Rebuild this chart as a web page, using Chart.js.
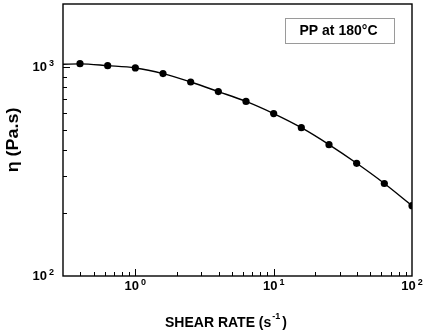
<!DOCTYPE html>
<html>
<head>
<meta charset="utf-8">
<script src="https://cdn.jsdelivr.net/npm/chart.js@4/dist/chart.umd.min.js"></script>
<style>
html,body{margin:0;padding:0;background:#fff;}
#c{display:block;}
</style>
</head>
<body>
<canvas id="c" width="425" height="332"></canvas>
<script>
// Shear rate (s^-1) and viscosity (Pa.s) measured points
const shearRate = [0.398, 0.631, 1.0, 1.585, 2.512, 3.981, 6.31, 10.0, 15.85, 25.12, 39.81, 63.1, 100];
const viscosity = [1036, 1014, 989, 929, 847, 762, 684, 598, 512, 425, 346, 277, 217];
// Fitted curve
const fitShearRate = [0.3, 0.398, 0.631, 1.0, 1.585, 2.512, 3.981, 6.31, 10.0, 15.85, 25.12, 39.81, 63.1, 100];
const fitViscosity = [1030, 1034, 1014, 989, 929, 847, 762, 684, 598, 512, 425, 346, 277, 217];
// Axis ticks
const xMajorTicks = [1, 10, 100];
const xTickLabels = ['10^0', '10^1', '10^2'];
const yMajorTicks = [100, 1000];
const yTickLabels = ['10^2', '10^3'];
const xTitle = ['SHEAR RATE (s', '-1', ')'];
const yTitle = 'η (Pa.s)';
const legendText = 'PP at 180°C';

const FONT = '"Liberation Sans", Arial, Helvetica, sans-serif';

function drawPow(ctx, label, x, y, align) {
  const parts = label.split('^');
  ctx.font = 'bold 13px ' + FONT;
  const w1 = ctx.measureText(parts[0]).width;
  ctx.font = 'bold 9px ' + FONT;
  const w2 = ctx.measureText(parts[1]).width;
  const gap = 2;
  const total = w1 + gap + w2;
  let x0 = align === 'center' ? x - total / 2 : x - total;
  ctx.textAlign = 'left';
  ctx.textBaseline = 'alphabetic';
  ctx.font = 'bold 13px ' + FONT;
  ctx.fillText(parts[0], x0, y);
  ctx.font = 'bold 9px ' + FONT;
  ctx.fillText(parts[1], x0 + w1 + gap, y - 5);
}

function isDecadeMultiple(v) {
  const m = v / Math.pow(10, Math.floor(Math.log10(v) + 1e-9));
  return Math.abs(m - Math.round(m)) < 1e-6;
}

const decor = {
  id: 'decor',
  afterDraw(chart) {
    const ctx = chart.ctx;
    const a = chart.chartArea;
    const xs = chart.scales.x, ys = chart.scales.y;
    ctx.save();
    ctx.strokeStyle = '#000';
    ctx.fillStyle = '#000';
    // frame
    ctx.lineWidth = 1.4;
    ctx.strokeRect(a.left, a.top, a.right - a.left, a.bottom - a.top);
    // ticks (inward)
    ctx.lineWidth = 1;
    ctx.beginPath();
    xs.ticks.forEach(t => {
      const v = t.value;
      if (v <= xs.min || v >= xs.max || !isDecadeMultiple(v)) return;
      const px = Math.round(xs.getPixelForValue(v)) + 0.5;
      const major = xMajorTicks.includes(v);
      const len = major ? 7 : 4;
      ctx.moveTo(px, a.bottom);
      ctx.lineTo(px, a.bottom - len);
    });
    ys.ticks.forEach(t => {
      const v = t.value;
      if (v <= ys.min || v >= ys.max || !isDecadeMultiple(v) || v > 1000) return;
      const py = Math.round(ys.getPixelForValue(v)) + 0.5;
      const major = yMajorTicks.includes(v);
      const len = major ? 7 : 4;
      ctx.moveTo(a.left, py);
      ctx.lineTo(a.left + len, py);
    });
    ctx.stroke();
    // tick labels
    xMajorTicks.forEach((v, i) => {
      drawPow(ctx, xTickLabels[i], xs.getPixelForValue(v), a.bottom + 14, 'center');
    });
    yMajorTicks.forEach((v, i) => {
      drawPow(ctx, yTickLabels[i], a.left - 9, ys.getPixelForValue(v) + 4, 'right');
    });
    // x title
    ctx.font = 'bold 14px ' + FONT;
    const t1 = ctx.measureText(xTitle[0]).width;
    const t3 = ctx.measureText(xTitle[2]).width;
    ctx.font = 'bold 9px ' + FONT;
    const t2 = ctx.measureText(xTitle[1]).width;
    const tot = t1 + t2 + 3 + t3;
    let tx = 226 - tot / 2;
    ctx.textAlign = 'left';
    ctx.textBaseline = 'alphabetic';
    ctx.font = 'bold 14px ' + FONT;
    ctx.fillText(xTitle[0], tx, 327);
    ctx.font = 'bold 9px ' + FONT;
    ctx.fillText(xTitle[1], tx + t1 + 1, 319);
    ctx.font = 'bold 14px ' + FONT;
    ctx.fillText(xTitle[2], tx + t1 + t2 + 3, 327);
    // y title
    ctx.save();
    ctx.translate(14, (a.top + a.bottom) / 2);
    ctx.rotate(-Math.PI / 2);
    ctx.scale(1.12, 1);
    ctx.font = 'bold 16px ' + FONT;
    ctx.textAlign = 'center';
    ctx.textBaseline = 'middle';
    ctx.fillText(yTitle, 0, 0);
    ctx.restore();
    // legend box
    ctx.strokeStyle = '#9a9a9a';
    ctx.lineWidth = 1;
    ctx.strokeRect(285.5, 18.5, 109, 25);
    ctx.font = 'bold 14px ' + FONT;
    ctx.textAlign = 'center';
    ctx.textBaseline = 'middle';
    ctx.fillStyle = '#000';
    ctx.fillText(legendText, 338.5, 31.5);
    ctx.restore();
  }
};

new Chart(document.getElementById('c'), {
  type: 'scatter',
  data: {
    datasets: [
      {
        label: 'fit',
        data: fitShearRate.map((x, i) => ({x, y: fitViscosity[i]})),
        showLine: true,
        borderColor: '#000',
        borderWidth: 1.4,
        pointRadius: 0,
        cubicInterpolationMode: 'monotone',
        fill: false
      },
      {
        label: 'PP at 180°C',
        data: shearRate.map((x, i) => ({x, y: viscosity[i]})),
        showLine: false,
        backgroundColor: '#000',
        borderColor: '#000',
        pointRadius: 3.6,
        pointBorderWidth: 0
      }
    ]
  },
  options: {
    responsive: false,
    animation: false,
    devicePixelRatio: 1,
    layout: {padding: {left: 0, right: 13, top: 1, bottom: 0}},
    plugins: {legend: {display: false}, tooltip: {enabled: false}},
    scales: {
      x: {
        type: 'logarithmic',
        min: 0.3, max: 100,
        grid: {display: false, drawTicks: false},
        border: {display: false},
        ticks: {display: false},
        afterFit(s) { s.height = 56; }
      },
      y: {
        type: 'logarithmic',
        min: 100, max: 2000,
        grid: {display: false, drawTicks: false},
        border: {display: false},
        ticks: {display: false},
        afterFit(s) { s.width = 63; }
      }
    }
  },
  plugins: [decor]
});
</script>
</body>
</html>
